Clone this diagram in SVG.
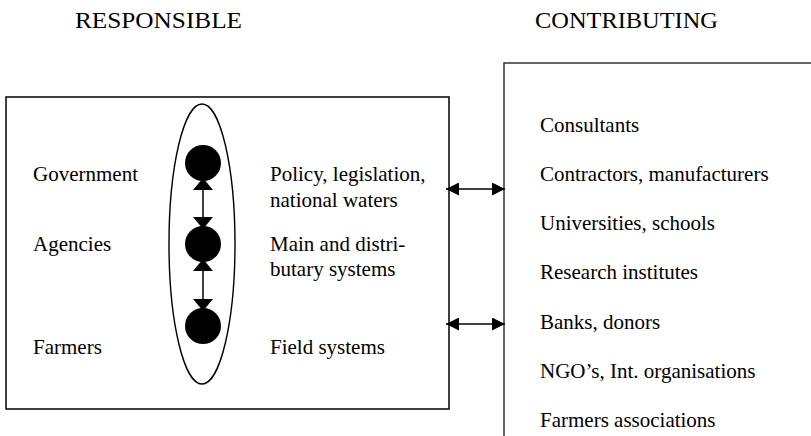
<svg xmlns="http://www.w3.org/2000/svg" width="811" height="436" viewBox="0 0 811 436">
<style>
  text { font-family: "Liberation Serif", "Times New Roman", serif; fill: #000; }
  .t { font-size: 21px; }
  .h { font-size: 24px; }
  .box { fill: none; stroke: #000; stroke-width: 1.5; }
  .dot { fill: #000; }
  .conn { stroke: #000; stroke-width: 1.5; fill: none; }
</style>
<defs>
  <marker id="av" viewBox="0 0 12 20" refX="12" refY="10" markerWidth="12" markerHeight="20" markerUnits="userSpaceOnUse" orient="auto-start-reverse">
    <path d="M0,0 L12,10 L0,20 z" fill="#000"/>
  </marker>
  <marker id="ah" viewBox="0 0 13 13" refX="13" refY="6.5" markerWidth="13" markerHeight="13" markerUnits="userSpaceOnUse" orient="auto-start-reverse">
    <path d="M0,0 L13,6.5 L0,13 z" fill="#000"/>
  </marker>
</defs>
<rect width="811" height="436" fill="#fff"/>

<g id="headers">
  <text class="h" x="75" y="28" textLength="167" lengthAdjust="spacingAndGlyphs">RESPONSIBLE</text>
  <text class="h" x="535" y="28" textLength="183" lengthAdjust="spacingAndGlyphs">CONTRIBUTING</text>
</g>

<g id="responsible">
  <rect class="box" x="6" y="97" width="443" height="312"/>
  <text class="t" x="33" y="181">Government</text>
  <text class="t" x="33" y="251">Agencies</text>
  <text class="t" x="33" y="354">Farmers</text>
  <text class="t" x="270" y="181">Policy, legislation,</text>
  <text class="t" x="270" y="207">national waters</text>
  <text class="t" x="270" y="251">Main and distri-</text>
  <text class="t" x="270" y="276">butary systems</text>
  <text class="t" x="270" y="354">Field systems</text>
</g>

<g id="hierarchy">
  <ellipse cx="202" cy="244" rx="33" ry="140" fill="none" stroke="#000" stroke-width="1.4"/>
  <circle id="n-government" class="dot" cx="203" cy="163" r="18"/>
  <circle id="n-agencies" class="dot" cx="203" cy="244" r="18"/>
  <circle id="n-farmers" class="dot" cx="203" cy="326" r="18"/>
</g>

<g id="contributing">
  <path d="M811,63 L504,63 L504,436" fill="none" stroke="#333" stroke-width="1.5"/>
  <text class="t" x="540" y="132">Consultants</text>
  <text class="t" x="540" y="181">Contractors, manufacturers</text>
  <text class="t" x="540" y="230">Universities, schools</text>
  <text class="t" x="540" y="279">Research institutes</text>
  <text class="t" x="540" y="329">Banks, donors</text>
  <text class="t" x="540" y="378">NGO’s, Int. organisations</text>
  <text class="t" x="540" y="427">Farmers associations</text>
</g>

<g id="connectors">
  <line class="conn" x1="203" y1="178" x2="203" y2="229" marker-start="url(#av)" marker-end="url(#av)"/>
  <line class="conn" x1="203" y1="259" x2="203" y2="311" marker-start="url(#av)" marker-end="url(#av)"/>
  <line class="conn" x1="446" y1="189" x2="505" y2="189" marker-start="url(#ah)" marker-end="url(#ah)"/>
  <line class="conn" x1="446" y1="324" x2="505" y2="324" marker-start="url(#ah)" marker-end="url(#ah)"/>
</g>
</svg>
